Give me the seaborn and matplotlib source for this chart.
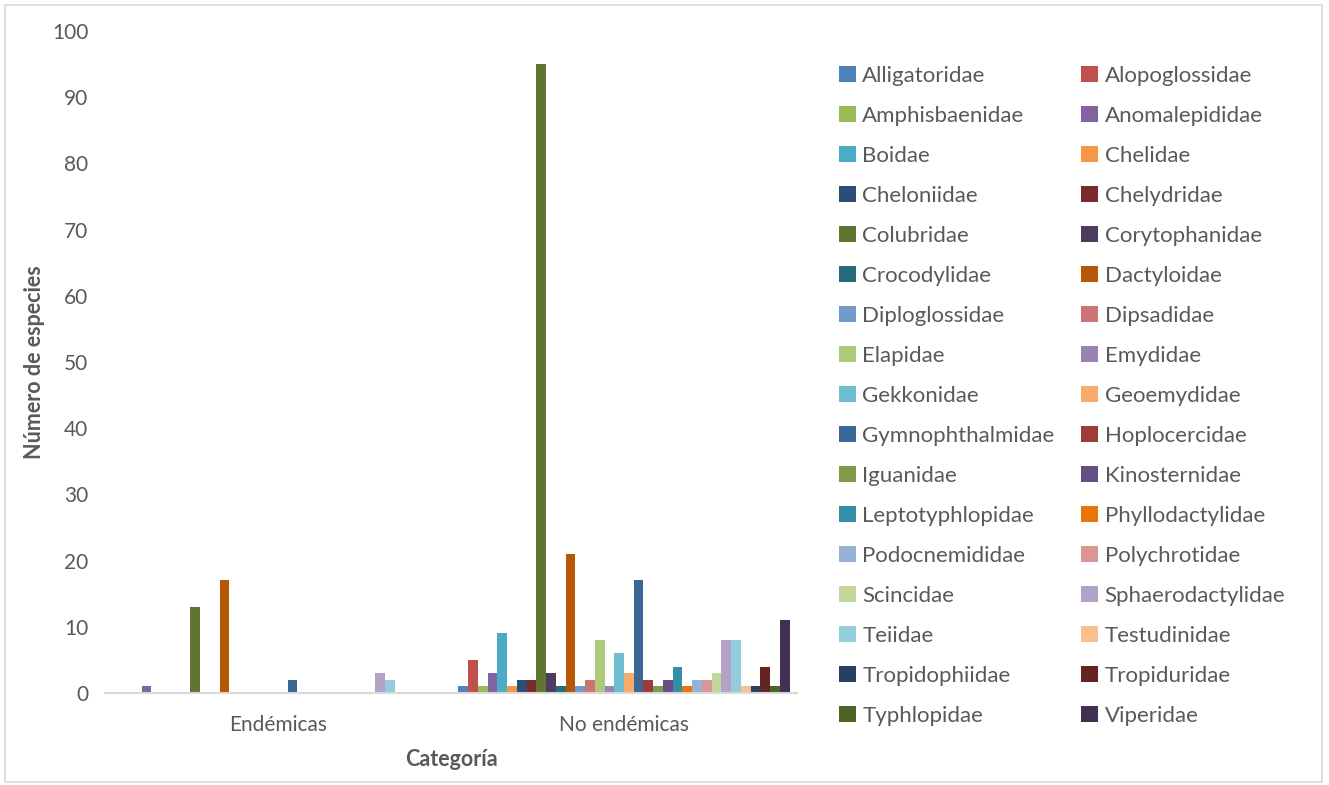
import matplotlib
matplotlib.use("Agg")
import matplotlib.pyplot as plt
from matplotlib.patches import Patch, Rectangle
import seaborn as sns
import pandas as pd

categories = ["Endémicas", "No endémicas"]
families = [
    "Alligatoridae", "Alopoglossidae", "Amphisbaenidae", "Anomalepididae",
    "Boidae", "Chelidae", "Cheloniidae", "Chelydridae", "Colubridae",
    "Corytophanidae", "Crocodylidae", "Dactyloidae", "Diploglossidae",
    "Dipsadidae", "Elapidae", "Emydidae", "Gekkonidae", "Geoemydidae",
    "Gymnophthalmidae", "Hoplocercidae", "Iguanidae", "Kinosternidae",
    "Leptotyphlopidae", "Phyllodactylidae", "Podocnemididae", "Polychrotidae",
    "Scincidae", "Sphaerodactylidae", "Teiidae", "Testudinidae",
    "Tropidophiidae", "Tropiduridae", "Typhlopidae", "Viperidae",
]
endemicas = [0, 0, 0, 1, 0, 0, 0, 0, 13, 0, 0, 17, 0, 0, 0, 0, 0, 0,
             2, 0, 0, 0, 0, 0, 0, 0, 0, 3, 2, 0, 0, 0, 0, 0]
no_endemicas = [1, 5, 1, 3, 9, 1, 2, 2, 95, 3, 1, 21, 1, 2, 8, 1, 6, 3,
                17, 2, 1, 2, 4, 1, 2, 2, 3, 8, 8, 1, 1, 4, 1, 11]
colors = [
    "#4F81BD", "#C0504D", "#9BBB59", "#8064A2", "#4BACC6", "#F79646",
    "#2C4D75", "#772C2A", "#5F7530", "#4D3B62", "#276A7C", "#B65708",
    "#729ACA", "#CD7371", "#AFC97A", "#9983B5", "#6FBDD1", "#F9AB6B",
    "#3A6796", "#9C3D3A", "#7F9A48", "#664F82", "#358EA6", "#E97407",
    "#95B3D7", "#D99694", "#C3D69B", "#B3A2C7", "#93CDDD", "#FAC090",
    "#254061", "#632523", "#4F6228", "#403152",
]

rows = []
for fam, e, n in zip(families, endemicas, no_endemicas):
    rows.append({"Categoría": categories[0], "Familia": fam, "Especies": e})
    rows.append({"Categoría": categories[1], "Familia": fam, "Especies": n})
df = pd.DataFrame(rows)

sns.set_style("white")
plt.rcParams["font.family"] = ["Lato", "DejaVu Sans"]
txt = "#595959"

fig = plt.figure(figsize=(13.29, 7.85), dpi=100)
ax = fig.add_axes([105 / 1329, 1 - 693 / 785, 692 / 1329, (693 - 31) / 785])

sns.barplot(data=df, x="Categoría", y="Especies", hue="Familia",
            order=categories, hue_order=families,
            palette=dict(zip(families, colors)), saturation=1,
            width=0.957, linewidth=0, legend=False, ax=ax, errorbar=None)

ax.set_ylim(0, 100)
ax.set_xlim(-0.5, 1.5)
ax.set_yticks(range(0, 101, 10))
ax.tick_params(axis="both", length=0, labelsize=15, colors=txt)
ax.tick_params(axis="y", pad=12)
ax.tick_params(axis="x", pad=16)
for s in ["top", "right", "left"]:
    ax.spines[s].set_visible(False)
ax.spines["bottom"].set_color("#D9D9D9")
ax.spines["bottom"].set_linewidth(1.5)
ax.grid(False)
ax.set_xlabel("Categoría", fontsize=15.5, fontweight="bold", color=txt, labelpad=10)
ax.set_ylabel("Número de especies", fontsize=15.5, fontweight="bold", color=txt, labelpad=5)

handles = [Patch(facecolor=c, edgecolor="none", label=f) for f, c in zip(families, colors)]
order = list(range(0, 34, 2)) + list(range(1, 34, 2))
leg = fig.legend([handles[i] for i in order], [families[i] for i in order],
                 ncol=2, loc="upper left", bbox_to_anchor=(839 / 1329, 1 - 66 / 785),
                 frameon=False, fontsize=16, handlelength=0.75, handleheight=0.75,
                 handletextpad=0.3, labelspacing=0.9, columnspacing=1.2,
                 borderaxespad=0, borderpad=0)
for t in leg.get_texts():
    t.set_color(txt)

fig.patches.append(Rectangle((5 / 1329, 3 / 785), 1317 / 1329, 777 / 785,
                             transform=fig.transFigure, fill=False,
                             edgecolor="#D9D9D9", linewidth=1.2))

fig.savefig("out.png", dpi=100, facecolor="white")
